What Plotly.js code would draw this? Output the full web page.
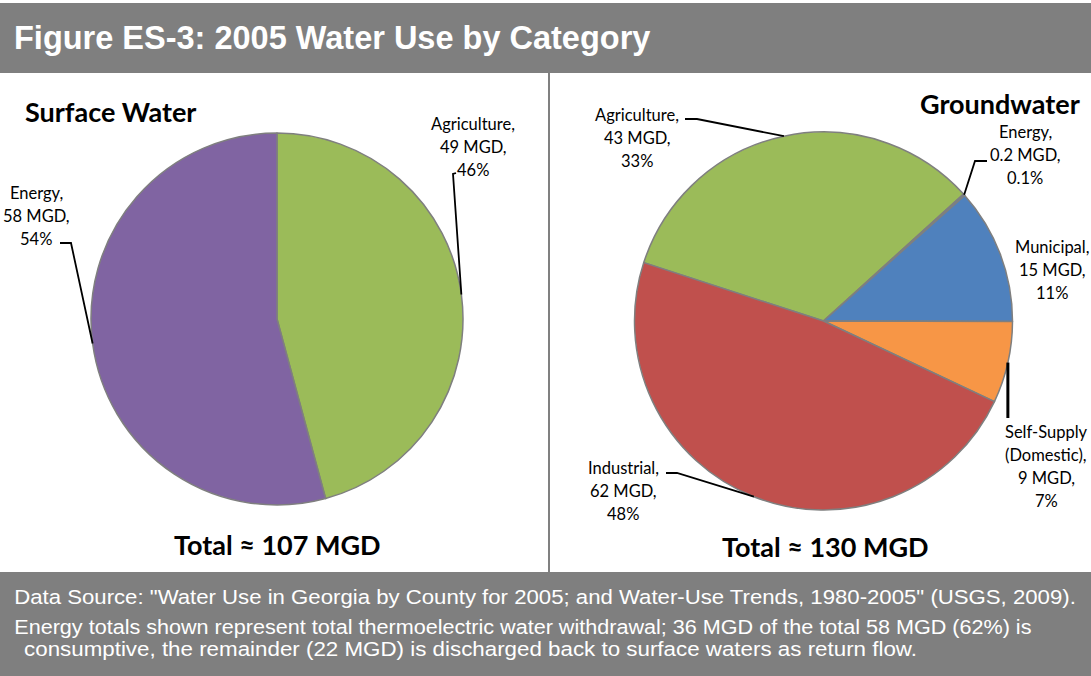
<!DOCTYPE html>
<html>
<head>
<meta charset="utf-8">
<script src="https://cdn.plot.ly/plotly-3.0.1.min.js"></script>
<style>
  html, body { margin: 0; padding: 0; background: #ffffff; }
  #chart { width: 1091px; height: 676px; }
</style>
</head>
<body>
<div id="chart"></div>
<script>
// 2005 water use by category (million gallons per day)
const surfaceCategories = ['Agriculture', 'Energy'];
const surfaceMGD = [49, 58];
const surfacePct = [46, 54];
const surfaceTotal = 107;

const groundCategories = ['Agriculture', 'Energy', 'Municipal', 'Self-Supply<br>(Domestic)', 'Industrial'];
const groundMGD = [43, 0.2, 15, 9, 62];
const groundPct = [33, 0.1, 11, 7, 48];
const groundTotal = 130;

const footerNotes = [
  'Data Source: "Water Use in Georgia by County for 2005; and Water-Use Trends, 1980-2005" (USGS, 2009).',
  'Energy totals shown represent total thermoelectric water withdrawal; 36 MGD of the total 58 MGD (62%) is',
  'consumptive, the remainder (22 MGD) is discharged back to surface waters as return flow.'
];

const surfaceColors = ['#9BBB59', '#8064A2'];
const groundColors = ['#9BBB59', '#4F81BD', '#4F81BD', '#F79646', '#C0504D'];

const W = 1091, H = 676;
const px = x => x / W;
const py = y => 1 - y / H;

// pie geometry in pixels
const surfacePie = { cx: 277, cy: 319, r: 186, rotation: 0 };
const groundPie = { cx: 823.5, cy: 321, r: 189, rotation: -72 };

function domainOf(p) {
  return {
    x: [px(p.cx - p.r), px(p.cx + p.r)],
    y: [py(p.cy + p.r), py(p.cy - p.r)]
  };
}

// point on the rim at the middle of slice i
function rimPoint(p, values, i) {
  const total = values.reduce((a, b) => a + b, 0);
  let before = 0;
  for (let k = 0; k < i; k++) before += values[k];
  const mid = p.rotation + (before + values[i] / 2) / total * 360;
  const t = mid * Math.PI / 180;
  return [p.cx + p.r * Math.sin(t), p.cy - p.r * Math.cos(t)];
}

const labelFont = { family: 'Lato, "Open Sans", sans-serif', size: 16.5, color: '#000000' };
const lineGap = 23;

const annotations = [];
const shapes = [];

function addLabel(lines, cx, y0) {
  lines.forEach((t, i) => {
    annotations.push({
      xref: 'paper', yref: 'paper', x: px(cx), y: py(y0 + i * lineGap),
      text: t, showarrow: false, xanchor: 'center', yanchor: 'middle',
      font: labelFont
    });
  });
}

function labelLines(cats, mgd, pct, i) {
  return cats[i].split('<br>').map((s, k, arr) => k === arr.length - 1 ? s + ',' : s)
    .concat([mgd[i] + ' MGD,', pct[i] + '%']);
}

function leader(points, width) {
  const d = points.map((pt, k) => (k ? 'L' : 'M') + px(pt[0]) + ',' + py(pt[1])).join(' ');
  shapes.push({ type: 'path', xref: 'paper', yref: 'paper', path: d,
    line: { color: '#000000', width: width || 1.8 } });
}

// header and footer bands, divider
shapes.push({ type: 'rect', xref: 'paper', yref: 'paper', x0: 0, x1: 1, y0: py(73), y1: py(3),
  fillcolor: '#7F7F7F', line: { width: 0 }, layer: 'below' });
shapes.push({ type: 'rect', xref: 'paper', yref: 'paper', x0: 0, x1: 1, y0: 0, y1: py(572),
  fillcolor: '#7F7F7F', line: { width: 0 }, layer: 'below' });
shapes.push({ type: 'line', xref: 'paper', yref: 'paper', x0: px(549), x1: px(549), y0: py(73), y1: py(572),
  line: { color: '#808080', width: 2 } });

// surface water labels
addLabel(labelLines(surfaceCategories, surfaceMGD, surfacePct, 0), 473, 124);
addLabel(labelLines(surfaceCategories, surfaceMGD, surfacePct, 1), 36, 193);
leader([[456, 173], [453, 174], rimPoint(surfacePie, surfaceMGD, 0)]);
leader([[60, 243], [71, 243], rimPoint(surfacePie, surfaceMGD, 1)]);

// groundwater labels
addLabel(labelLines(groundCategories, groundMGD, groundPct, 0), 637, 115);
addLabel(labelLines(groundCategories, groundMGD, groundPct, 1), 1025, 132);
addLabel(labelLines(groundCategories, groundMGD, groundPct, 2), 1052, 247);
addLabel(labelLines(groundCategories, groundMGD, groundPct, 3), 1046, 432);
addLabel(labelLines(groundCategories, groundMGD, groundPct, 4), 623, 468);
leader([[685, 119], [697, 119], rimPoint(groundPie, groundMGD, 0)]);
leader([[987, 161], [975, 161], rimPoint(groundPie, groundMGD, 1)]);
(function () {
  const a = rimPoint(groundPie, groundMGD, 3);
  leader([a, [a[0], 418]], 3);
})();
leader([[666, 473], [677, 473], rimPoint(groundPie, groundMGD, 4)]);

// titles
const boldFont = (size) => ({ family: 'Lato, "Open Sans", sans-serif', size: size, color: '#000000' });
annotations.push({ xref: 'paper', yref: 'paper', x: px(23), y: py(112), xanchor: 'left', yanchor: 'middle',
  text: '<b>Surface Water</b>', showarrow: false, font: boldFont(27) });
annotations.push({ xref: 'paper', yref: 'paper', x: px(1082), y: py(103), xanchor: 'right', yanchor: 'middle',
  text: '<b>Groundwater</b>', showarrow: false, font: boldFont(27) });
annotations.push({ xref: 'paper', yref: 'paper', x: px(277), y: py(544), xanchor: 'center', yanchor: 'middle',
  text: '<b>Total \u2248 ' + surfaceTotal + ' MGD</b>', showarrow: false, font: boldFont(27) });
annotations.push({ xref: 'paper', yref: 'paper', x: px(825), y: py(546), xanchor: 'center', yanchor: 'middle',
  text: '<b>Total \u2248 ' + groundTotal + ' MGD</b>', showarrow: false, font: boldFont(27) });

// header title
const sansWhite = (size) => ({ family: '"Liberation Sans", Arial, sans-serif', size: size, color: '#ffffff' });
annotations.push({ xref: 'paper', yref: 'paper', x: px(12), y: py(38), xanchor: 'left', yanchor: 'middle',
  text: '<b>Figure ES-3: 2005 Water Use by Category</b>', showarrow: false, font: sansWhite(32.5) });

// footer notes: left edge, middle line, and the width each line is set to fill
const footerLayout = [
  { x: 12, y: 597, width: 1062 },
  { x: 12, y: 627, width: 1018 },
  { x: 22, y: 649, width: 893 }
];
const firstFooter = annotations.length;
footerNotes.forEach((t, i) => {
  const f = footerLayout[i];
  annotations.push({ xref: 'paper', yref: 'paper', x: px(f.x), y: py(f.y), xanchor: 'left', yanchor: 'middle',
    text: t, showarrow: false, font: sansWhite(19.5) });
});

const traces = [
  {
    type: 'pie', labels: surfaceCategories, values: surfaceMGD, sort: false,
    direction: 'clockwise', rotation: surfacePie.rotation,
    marker: { colors: surfaceColors, line: { color: '#7F7F7F', width: 1.5 } },
    textinfo: 'none', hoverinfo: 'none', domain: domainOf(surfacePie)
  },
  {
    type: 'pie', labels: groundCategories, values: groundMGD, sort: false,
    direction: 'clockwise', rotation: groundPie.rotation,
    marker: { colors: groundColors, line: { color: '#7F7F7F', width: 1.5 } },
    textinfo: 'none', hoverinfo: 'none', domain: domainOf(groundPie)
  }
];

const layout = {
  width: W, height: H,
  margin: { l: 0, r: 0, t: 0, b: 0 },
  paper_bgcolor: '#ffffff',
  showlegend: false,
  shapes: shapes,
  annotations: annotations
};

Plotly.newPlot('chart', traces, layout, { displayModeBar: false, staticPlot: true }).then(gd => {
  // stretch the footer lines sideways so each spans its set width
  const groups = gd.querySelectorAll('.annotation');
  footerLayout.forEach((f, i) => {
    const g = groups[firstFooter + i];
    if (!g) return;
    const txt = g.querySelector('text.annotation-text');
    if (!txt) return;
    const bb = txt.getBBox();
    if (!bb.width) return;
    const s = f.width / bb.width;
    txt.setAttribute('transform',
      'translate(' + bb.x + ',0) scale(' + s + ',1) translate(' + (-bb.x) + ',0)');
  });
});
</script>
</body>
</html>
